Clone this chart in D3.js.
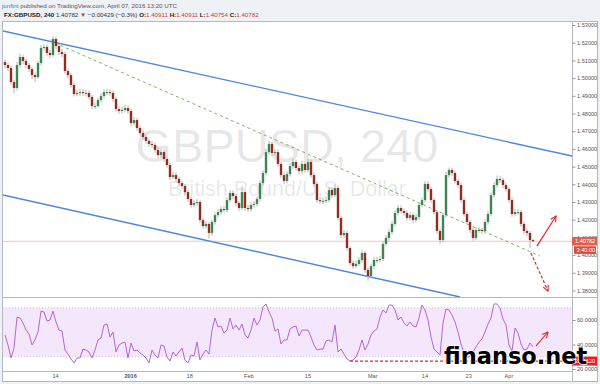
<!DOCTYPE html>
<html>
<head>
<meta charset="utf-8">
<script src="https://cdn.jsdelivr.net/npm/d3@7"></script>
<style>
  html, body { margin: 0; padding: 0; background: #eef1f5; }
  svg { display: block; font-family: "Liberation Sans", Arial, sans-serif; }
</style>
</head>
<body>
<div id="chart"></div>
<script>
/*
    GBPUSD 240 chart with channel, trend line and RSI pane
*/

// Candles (one per half trading day)
var firstOpen = 1.5090;
var closes = [
  1.5074,1.5057,1.4978,1.4944,1.5074,1.5119,1.5097,1.5074,1.5051,1.5017,
  1.5006,1.5085,1.5170,1.5176,1.5142,1.5130,1.5221,1.5181,1.5147,1.5136,
  1.5040,1.5017,1.4961,1.4910,1.4916,1.4921,1.4916,1.4916,1.4893,1.4842,
  1.4842,1.4876,1.4899,1.4921,1.4921,1.4916,1.4882,1.4825,1.4814,1.4820,
  1.4831,1.4814,1.4746,1.4763,1.4718,1.4690,1.4667,1.4645,1.4628,1.4622,
  1.4594,1.4565,1.4582,1.4543,1.4509,1.4441,1.4452,1.4430,1.4407,1.4390,
  1.4356,1.4317,1.4283,1.4294,1.4300,1.4198,1.4164,1.4176,1.4125,1.4187,
  1.4226,1.4243,1.4260,1.4255,1.4311,1.4351,1.4334,1.4294,1.4266,1.4356,
  1.4266,1.4260,1.4283,1.4289,1.4317,1.4407,1.4464,1.4582,1.4628,1.4577,
  1.4582,1.4515,1.4452,1.4419,1.4458,1.4503,1.4526,1.4492,1.4475,1.4515,
  1.4481,1.4526,1.4452,1.4402,1.4311,1.4306,1.4306,1.4311,1.4368,1.4339,
  1.4379,1.4210,1.4113,1.4125,1.4040,1.3955,1.3938,1.3950,1.3972,1.4012,
  1.3916,1.3882,1.3938,1.3972,1.3972,1.3978,1.4063,1.4097,1.4130,1.4176,
  1.4238,1.4266,1.4249,1.4238,1.4210,1.4226,1.4198,1.4215,1.4283,1.4311,
  1.4402,1.4373,1.4311,1.4243,1.4136,1.4085,1.4226,1.4452,1.4481,1.4464,
  1.4419,1.4396,1.4311,1.4232,1.4187,1.4142,1.4097,1.4142,1.4142,1.4136,
  1.4187,1.4232,1.4339,1.4396,1.4430,1.4424,1.4396,1.4373,1.4311,1.4232,
  1.4243,1.4243,1.4176,1.4136,1.4125,1.4085,1.40782
];
var highs = [
  1.5105,1.5088,1.5068,1.4990,1.5090,1.5140,1.5132,1.5110,1.5086,1.5062,
  1.5030,1.5098,1.5188,1.5192,1.5190,1.5158,1.5236,1.5232,1.5195,1.5165,
  1.5150,1.5055,1.5030,1.4975,1.4935,1.4940,1.4938,1.4932,1.4930,1.4905,
  1.4860,1.4890,1.4915,1.4938,1.4940,1.4935,1.4930,1.4895,1.4840,1.4838,
  1.4850,1.4845,1.4826,1.4780,1.4776,1.4732,1.4705,1.4680,1.4660,1.4645,
  1.4636,1.4608,1.4600,1.4596,1.4556,1.4522,1.4470,1.4466,1.4444,1.4420,
  1.4402,1.4370,1.4330,1.4310,1.4318,1.4312,1.4210,1.4192,1.4188,1.4200,
  1.4240,1.4258,1.4275,1.4278,1.4326,1.4366,1.4365,1.4346,1.4306,1.4390,
  1.4370,1.4284,1.4298,1.4305,1.4332,1.4422,1.4480,1.4600,1.4645,1.4640,
  1.4600,1.4596,1.4528,1.4466,1.4474,1.4520,1.4545,1.4540,1.4506,1.4532,
  1.4528,1.4545,1.4540,1.4466,1.4415,1.4328,1.4325,1.4330,1.4385,1.4382,
  1.4400,1.4392,1.4222,1.4142,1.4138,1.4052,1.3970,1.3968,1.3988,1.4030,
  1.4025,1.3930,1.3952,1.3988,1.3990,1.3995,1.4078,1.4112,1.4146,1.4190,
  1.4252,1.4282,1.4280,1.4262,1.4252,1.4242,1.4240,1.4232,1.4298,1.4326,
  1.4418,1.4416,1.4386,1.4324,1.4256,1.4150,1.4240,1.4470,1.4495,1.4494,
  1.4478,1.4432,1.4410,1.4325,1.4246,1.4200,1.4156,1.4158,1.4160,1.4155,
  1.4202,1.4248,1.4354,1.4412,1.4450,1.4446,1.4438,1.4410,1.4386,1.4325,
  1.4260,1.4262,1.4256,1.4190,1.4150,1.4138,1.4091
];
var lows = [
  1.5058,1.5040,1.4962,1.4915,1.4930,1.5060,1.5080,1.5058,1.5035,1.4995,
  1.4978,1.4995,1.5072,1.5155,1.5125,1.5112,1.5120,1.5165,1.5130,1.5118,
  1.5025,1.4998,1.4945,1.4895,1.4896,1.4900,1.4898,1.4900,1.4878,1.4825,
  1.4826,1.4830,1.4862,1.4885,1.4905,1.4900,1.4866,1.4810,1.4798,1.4800,
  1.4806,1.4798,1.4730,1.4732,1.4702,1.4675,1.4652,1.4630,1.4612,1.4605,
  1.4578,1.4548,1.4550,1.4528,1.4494,1.4425,1.4428,1.4415,1.4392,1.4374,
  1.4340,1.4302,1.4268,1.4270,1.4280,1.4182,1.4148,1.4150,1.4093,1.4110,
  1.4172,1.4212,1.4230,1.4240,1.4242,1.4298,1.4318,1.4278,1.4250,1.4254,
  1.4250,1.4244,1.4246,1.4268,1.4274,1.4305,1.4394,1.4450,1.4566,1.4560,
  1.4560,1.4500,1.4436,1.4402,1.4405,1.4444,1.4488,1.4476,1.4458,1.4460,
  1.4465,1.4468,1.4436,1.4386,1.4295,1.4290,1.4288,1.4292,1.4298,1.4322,
  1.4325,1.4195,1.4098,1.4096,1.4025,1.3940,1.3922,1.3924,1.3936,1.3958,
  1.3900,1.3855,1.3868,1.3922,1.3955,1.3958,1.3965,1.4050,1.4082,1.4116,
  1.4162,1.4224,1.4234,1.4222,1.4195,1.4196,1.4182,1.4184,1.4200,1.4270,
  1.4298,1.4358,1.4296,1.4228,1.4120,1.4065,1.4072,1.4212,1.4438,1.4448,
  1.4404,1.4380,1.4296,1.4218,1.4172,1.4126,1.4082,1.4085,1.4126,1.4120,
  1.4122,1.4172,1.4218,1.4325,1.4382,1.4408,1.4380,1.4358,1.4296,1.4216,
  1.4218,1.4228,1.4160,1.4120,1.4105,1.4040,1.4075
];

// RSI values at the same candles
var rsi = [
  47.8,39.6,29.0,37.1,62.4,61.6,57.6,51.8,48.6,39.6,
  43.7,50.2,67.3,66.5,59.2,60.0,67.3,58.4,51.8,51.0,
  35.5,32.2,28.2,24.9,29.0,29.0,36.3,35.5,33.9,29.0,
  35.5,43.7,45.3,55.9,56.7,46.1,50.2,33.9,39.6,41.2,
  42.0,29.0,41.2,34.7,35.5,33.1,31.4,29.0,24.9,35.5,
  31.4,29.0,39.6,38.8,29.8,26.5,33.9,30.6,33.9,37.1,
  27.3,24.9,31.4,30.6,42.0,27.3,32.2,35.5,32.2,51.8,
  61.6,54.3,55.1,49.4,51.8,61.6,52.7,55.9,51.8,56.7,
  47.8,45.3,51.8,61.6,55.9,60.0,70.6,73.1,66.5,61.6,
  51.0,52.7,40.4,43.7,43.7,52.7,54.3,55.1,46.9,51.8,
  51.8,51.8,46.1,39.6,35.5,36.3,36.3,42.9,43.7,42.0,
  55.9,33.9,36.3,32.2,28.2,26.5,27.3,29.8,35.5,43.7,
  35.5,40.4,47.8,51.0,52.7,62.4,68.2,65.7,72.2,72.2,
  68.2,60.0,62.4,57.6,55.1,58.4,55.1,54.3,61.6,72.2,
  68.2,60.0,46.1,36.3,33.9,31.4,57.6,69.0,68.2,64.1,
  58.4,50.2,40.4,33.1,29.0,30.6,33.9,38.0,42.0,44.5,
  50.2,56.7,61.6,73.1,73.1,69.8,60.8,55.9,39.6,34.7,
  53.5,49.4,40.4,35.5,36.3,41.2,38.0
];

// Axis ticks
var priceTicks = [1.53,1.52,1.51,1.50,1.49,1.48,1.47,1.46,1.45,1.44,1.43,1.42,1.41,1.40,1.39,1.38];
var rsiTicks = [60, 40, 20];
var timeLabels = ["14", "2016", "18", "Feb", "15", "Mar", "14", "23", "Apr"];
var timePositions = [16.7, 41.7, 61.4, 81.1, 100.8, 122.4, 139.8, 154.4, 167.8];

// Drawings, as [candle index, price]
var upperChannel = [[-0.7, 1.5266], [189, 1.4560]];
var lowerChannel = [[-0.7, 1.4340], [151.7, 1.3763]];
var trendLine = [[16.7, 1.5198], [178.3, 1.3995]];
var upArrow = [[177.3, 1.4051], [183.7, 1.4221]];
var downArrow = [[175.3, 1.4012], [181.0, 1.3797]];
var rsiArrow = [[177, 38.8], [181, 50.2]];
var rsiSupport = 26.5;
var rsiSupportStart = 115;

var lastPrice = 1.40782;

// Size of the page
var width = 600;
var height = 384;
var axisX = 572;

var svg = d3.select("#chart").append("svg")
  .attr("width", width)
  .attr("height", height);

svg.append("rect").attr("width", width).attr("height", height).attr("fill", "#eef1f5");
svg.append("rect")
  .attr("x", 2.5).attr("y", 21.5).attr("width", 595).attr("height", 360)
  .attr("fill", "#fff").attr("stroke", "#b4b9c1");

// Scales
var x = d3.scaleLinear().domain([0, closes.length - 1]).range([5, 533]);
var y = d3.scaleLinear().domain([1.38, 1.53]).range([290.5, 25]);
var yR = d3.scaleLinear().domain([20, 60]).range([369, 320]);

var defs = svg.append("defs");
defs.append("clipPath").attr("id", "clipPrice")
  .append("rect").attr("x", 3).attr("y", 22).attr("width", axisX - 3).attr("height", 275);
defs.append("clipPath").attr("id", "clipRsi")
  .append("rect").attr("x", 3).attr("y", 298).attr("width", axisX - 3).attr("height", 73);
defs.append("marker")
  .attr("id", "arrowRed")
  .attr("viewBox", "0 0 10 10")
  .attr("refX", 9).attr("refY", 5)
  .attr("markerWidth", 7).attr("markerHeight", 7)
  .attr("markerUnits", "userSpaceOnUse")
  .attr("orient", "auto")
  .append("path")
  .attr("d", "M1,1 L9,5 L1,9")
  .attr("fill", "none")
  .attr("stroke", "#e8262a")
  .attr("stroke-width", 1.6);

// PRICE PANE //
var pricePane = svg.append("g").attr("clip-path", "url(#clipPrice)");

pricePane.append("text")
  .attr("x", 287).attr("y", 162)
  .attr("text-anchor", "middle")
  .attr("font-size", 47)
  .attr("fill", "#000").attr("fill-opacity", 0.1)
  .text("GBPUSD, 240");
pricePane.append("text")
  .attr("x", 287).attr("y", 196)
  .attr("text-anchor", "middle")
  .attr("font-size", 21.5)
  .attr("fill", "#000").attr("fill-opacity", 0.1)
  .text("British Pound/U.S. Dollar");

pricePane.append("line")
  .attr("x1", 3).attr("x2", axisX)
  .attr("y1", y(lastPrice)).attr("y2", y(lastPrice))
  .attr("stroke", "#f3c4bd").attr("stroke-width", 1);

var line = d3.line()
  .x(function(d) { return x(d[0]); })
  .y(function(d) { return y(d[1]); });

[upperChannel, lowerChannel].forEach(function(ch) {
  pricePane.append("path")
    .attr("d", line(ch))
    .attr("fill", "none")
    .attr("stroke", "#4a86e0")
    .attr("stroke-width", 1.4);
});

pricePane.append("path")
  .attr("d", line(trendLine))
  .attr("fill", "none")
  .attr("stroke", "#7db35a")
  .attr("stroke-width", 1)
  .attr("stroke-dasharray", "3,3");

var candles = closes.map(function(c, i) {
  return {i: i, o: i ? closes[i - 1] : firstOpen, c: c, h: highs[i], l: lows[i]};
});

pricePane.selectAll(".wick")
  .data(candles)
  .enter().append("line")
  .attr("class", "wick")
  .attr("x1", function(d) { return x(d.i); })
  .attr("x2", function(d) { return x(d.i); })
  .attr("y1", function(d) { return y(d.h); })
  .attr("y2", function(d) { return y(d.l); })
  .attr("stroke", "#b3b3b3")
  .attr("stroke-width", 1);

pricePane.selectAll(".body")
  .data(candles)
  .enter().append("rect")
  .attr("class", "body")
  .attr("x", function(d) { return x(d.i) - 1.2; })
  .attr("width", 2.4)
  .attr("y", function(d) { return y(Math.max(d.o, d.c)); })
  .attr("height", function(d) { return Math.max(1, Math.abs(y(d.o) - y(d.c))); })
  .attr("fill", function(d) { return d.c >= d.o ? "#3f8552" : "#8e2d20"; });

pricePane.append("path")
  .attr("d", line(upArrow))
  .attr("fill", "none")
  .attr("stroke", "#e8262a")
  .attr("stroke-width", 1.2)
  .attr("marker-end", "url(#arrowRed)");
pricePane.append("path")
  .attr("d", line(downArrow))
  .attr("fill", "none")
  .attr("stroke", "#e8262a")
  .attr("stroke-width", 1.2)
  .attr("stroke-dasharray", "3,2")
  .attr("marker-end", "url(#arrowRed)");

// RSI PANE //
var rsiPane = svg.append("g").attr("clip-path", "url(#clipRsi)");

rsiPane.append("rect")
  .attr("x", 3).attr("width", axisX - 3)
  .attr("y", yR(70)).attr("height", yR(30) - yR(70))
  .attr("fill", "#f4e7fc");
[70, 30].forEach(function(v) {
  rsiPane.append("line")
    .attr("x1", 3).attr("x2", axisX)
    .attr("y1", yR(v)).attr("y2", yR(v))
    .attr("stroke", "#c9c9cf")
    .attr("stroke-dasharray", "1,2");
});

rsiPane.append("path")
  .datum(rsi)
  .attr("fill", "none")
  .attr("stroke", "#b564d8")
  .attr("stroke-width", 1)
  .attr("d", d3.line()
    .x(function(d, i) { return x(i); })
    .y(function(d) { return yR(d); }));

rsiPane.append("line")
  .attr("x1", x(rsiSupportStart)).attr("x2", axisX)
  .attr("y1", yR(rsiSupport)).attr("y2", yR(rsiSupport))
  .attr("stroke", "#e8262a")
  .attr("stroke-width", 1.2)
  .attr("stroke-dasharray", "3,2");

rsiPane.append("path")
  .attr("d", d3.line()
    .x(function(d) { return x(d[0]); })
    .y(function(d) { return yR(d[1]); })(rsiArrow))
  .attr("fill", "none")
  .attr("stroke", "#e8262a")
  .attr("stroke-width", 1.1)
  .attr("marker-end", "url(#arrowRed)");

// Pane borders
svg.append("line").attr("x1", 3).attr("x2", 597).attr("y1", 297.5).attr("y2", 297.5).attr("stroke", "#b4b9c1");
svg.append("line").attr("x1", 3).attr("x2", axisX).attr("y1", 371.5).attr("y2", 371.5).attr("stroke", "#b4b9c1");
svg.append("line").attr("x1", axisX + 0.5).attr("x2", axisX + 0.5).attr("y1", 21).attr("y2", 382).attr("stroke", "#b4b9c1");

// AXES //
var priceAxis = svg.append("g")
  .attr("transform", "translate(" + (axisX + 0.5) + ",0)")
  .call(d3.axisRight(y).tickValues(priceTicks).tickSize(3).tickPadding(1.5).tickFormat(d3.format(".5f")));
var rsiAxis = svg.append("g")
  .attr("transform", "translate(" + (axisX + 0.5) + ",0)")
  .call(d3.axisRight(yR).tickValues(rsiTicks).tickSize(3).tickPadding(1.5).tickFormat(d3.format(".4f")));
var timeAxis = svg.append("g")
  .attr("transform", "translate(0,371.5)")
  .call(d3.axisBottom(x).tickValues(timePositions).tickSize(0).tickPadding(3)
    .tickFormat(function(d, k) { return timeLabels[k]; }));

[priceAxis, rsiAxis, timeAxis].forEach(function(ax) {
  ax.select(".domain").remove();
  ax.selectAll(".tick line").attr("stroke", "#999");
  ax.selectAll("text")
    .attr("font-size", 5.6)
    .attr("font-family", "Liberation Sans, Arial, sans-serif")
    .attr("fill", "#555");
});
timeAxis.selectAll("text")
  .attr("font-weight", function(d, k) { return timeLabels[k] === "2016" ? "bold" : null; });

// Last price labels
svg.append("rect").attr("x", axisX).attr("y", y(lastPrice) - 4.2).attr("width", 25).attr("height", 8.4).attr("fill", "#df5f4c");
svg.append("text")
  .attr("x", axisX + 3).attr("y", y(lastPrice) + 2)
  .attr("font-size", 5.6).attr("fill", "#fff")
  .text(d3.format(".5f")(lastPrice));
svg.append("rect").attr("x", axisX + 2).attr("y", y(lastPrice) + 5).attr("width", 22).attr("height", 7.6).attr("fill", "#d4503d");
svg.append("text")
  .attr("x", axisX + 4.5).attr("y", y(lastPrice) + 10.8)
  .attr("font-size", 5.6).attr("fill", "#fff")
  .text("3:40:00");

svg.append("rect").attr("x", axisX).attr("y", yR(rsiSupport) - 4.5).attr("width", 25).attr("height", 9).attr("fill", "#f01818");
svg.append("text")
  .attr("x", axisX + 3).attr("y", yR(rsiSupport) + 2)
  .attr("font-size", 5.6).attr("fill", "#fff")
  .text("26.4120");

// Site watermark
svg.append("text")
  .attr("x", 444).attr("y", 364)
  .attr("font-family", "DejaVu Sans, Verdana, sans-serif")
  .attr("font-weight", "bold")
  .attr("font-size", 22.5)
  .attr("fill", "#000")
  .attr("stroke", "#fff")
  .attr("stroke-width", 1.5)
  .attr("paint-order", "stroke")
  .text("finanso.net");

// HEADER //
var head1 = svg.append("text").attr("x", 2).attr("y", 8).attr("font-size", 6.2);
head1.append("tspan").attr("fill", "#3a7bd5").text("jonfint");
head1.append("tspan").attr("fill", "#555").text(" published on TradingView.com, April 07, 2016 13:20 UTC");

var head2 = svg.append("text").attr("x", 4).attr("y", 17).attr("font-size", 6.2).attr("fill", "#333");
head2.append("tspan").attr("font-weight", "bold").attr("fill", "#222").text("FX:GBPUSD, 240");
head2.append("tspan").text(" 1.40782 ");
head2.append("tspan").attr("fill", "#c0392b").text("\u25BC");
head2.append("tspan").text(" \u22120.00429 (\u22120.3%) ");
[["O:", "1.40911"], ["H:", "1.40911"], ["L:", "1.40754"], ["C:", "1.40782"]].forEach(function(p, k) {
  head2.append("tspan").attr("font-weight", "bold").attr("fill", "#222").text((k ? " " : "") + p[0]);
  head2.append("tspan").attr("fill", "#d23c2c").text(p[1]);
});
</script>
</body>
</html>
